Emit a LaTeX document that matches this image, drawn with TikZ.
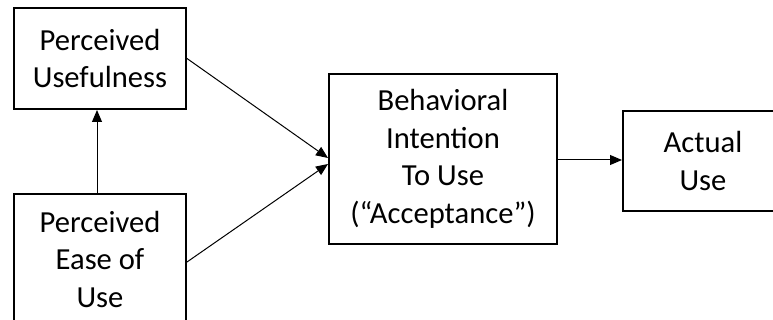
\documentclass[tikz,border=0pt]{standalone}
\usepackage{fontspec}
\setmainfont{Carlito}
\usetikzlibrary{arrows.meta,calc}
\tikzset{
  box/.style={draw=black, line width=2pt, rectangle, align=center, inner sep=0pt,
    font=\fontsize{30.6}{37.5}\selectfont},
  arr/.style={draw=black, line width=1pt, -{Triangle[length=12pt,width=10pt]}}
}
\begin{document}
\begin{tikzpicture}[x=1pt,y=-1pt]
\useasboundingbox (0,0) rectangle (773,320);
\clip (0,0) rectangle (773,320);
\node[box, minimum width=172pt, minimum height=101pt] (pu) at (100,58.5) {Perceived\\Usefulness};
\node[box, minimum width=172pt, minimum height=130pt] (peu) at (100,259) {Perceived\\Ease of\\Use};
\node[box, minimum width=228pt, minimum height=170pt] (bi) at (443,159) {Behavioral\\Intention\\To Use\\(“Acceptance”)};
\node[box, minimum width=160pt, minimum height=100pt] (au) at (703,161) {Actual\\Use};
\draw[arr] ($(peu.north)+(-3,0)$) -- ($(pu.south)+(-3,0)$);
\draw[arr] (pu.east) -- ($(bi.west)+(0,-1)$);
\draw[arr] ($(peu.east)+(0,3)$) -- ($(bi.west)+(0,5)$);
\draw[arr] ($(bi.east)+(0,1)$) -- ($(bi.east -| au.west)+(0,1)$);
\end{tikzpicture}
\end{document}
